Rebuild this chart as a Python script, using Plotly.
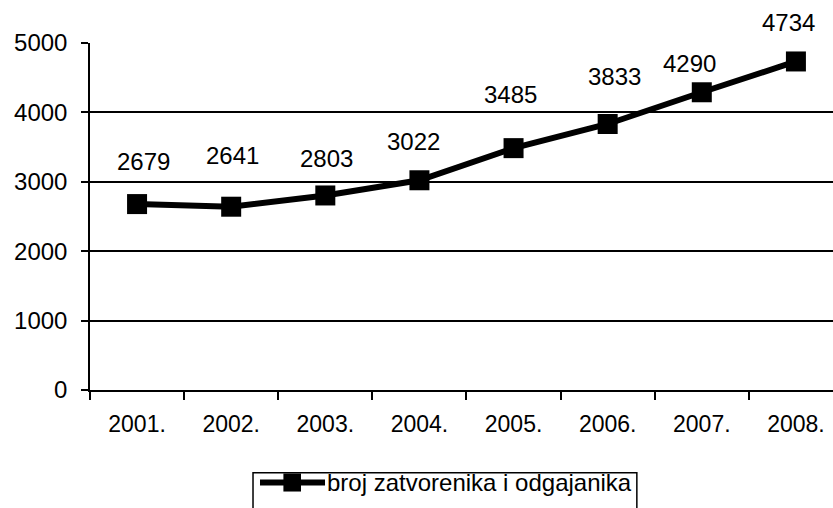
import plotly.graph_objects as go

# data
years = ["2001.", "2002.", "2003.", "2004.", "2005.", "2006.", "2007.", "2008."]
counts = [2679, 2641, 2803, 3022, 3485, 3833, 4290, 4734]
series_name = "broj zatvorenika i odgajanika"
y_ticks = [0, 1000, 2000, 3000, 4000, 5000]

# hand-placed label offsets (px) as in the original
label_dx = [6, 1, 1, -6, -3, 7, -12, -7]
label_dy = [43, 51, 37, 39, 54, 47, 29, 39]

FONT = "Arial, Liberation Sans, sans-serif"

fig = go.Figure()

fig.add_trace(go.Scatter(
    x=years, y=counts,
    mode="lines+markers",
    name=series_name,
    line=dict(color="black", width=6),
    marker=dict(symbol="square", size=20, color="black"),
    showlegend=False,
))

# data labels (x given as category index)
for i, val in enumerate(counts):
    fig.add_annotation(
        x=i, y=val, xref="x", yref="y",
        text=str(val), showarrow=False,
        xshift=label_dx[i], yshift=label_dy[i],
        font=dict(family=FONT, size=24, color="black"),
    )

# legend drawn by hand (long line sample, boxed)
fig.add_shape(type="rect", xref="paper", yref="paper",
              x0=0.2194, x1=0.736, y0=-0.40, y1=-0.2386,
              line=dict(color="black", width=1.5), fillcolor="white")
fig.add_shape(type="line", xref="paper", yref="paper",
              x0=0.2288, x1=0.3163, y0=-0.2666, y1=-0.2666,
              line=dict(color="black", width=6))
fig.add_shape(type="rect", xref="paper", yref="paper",
              x0=0.2603, x1=0.2840, y0=-0.2406, y1=-0.2926,
              line=dict(color="black", width=0), fillcolor="black")
fig.add_annotation(
    xref="paper", yref="paper", x=0.3163, y=-0.2666,
    xanchor="left", yanchor="middle", showarrow=False,
    text=series_name, font=dict(family=FONT, size=24, color="black"),
)

fig.update_layout(
    width=833, height=508,
    margin=dict(l=90, r=0, t=43, b=118),
    plot_bgcolor="white", paper_bgcolor="white",
    font=dict(family=FONT, size=24, color="black"),
    xaxis=dict(
        type="category", range=[-0.5, 7.394],
        tickson="boundaries", ticks="outside", ticklen=8, tickwidth=1.5,
        tickcolor="black", showgrid=False, showline=True,
        linecolor="black", linewidth=1.5,
        tickfont=dict(family=FONT, size=23, color="black"),
        ticklabelstandoff=13,
    ),
    yaxis=dict(
        range=[0, 5000], tickvals=y_ticks,
        ticks="outside", ticklen=7, tickwidth=1.5, tickcolor="black",
        showgrid=True, gridcolor="black", gridwidth=1.5,
        showline=True, linecolor="black", linewidth=1.5,
        zeroline=False,
        tickfont=dict(family=FONT, size=24, color="black"),
        ticklabelstandoff=9,
    ),
)

fig.write_html("out.html", config={"displayModeBar": False},
               post_script="document.body.style.margin='0';")
